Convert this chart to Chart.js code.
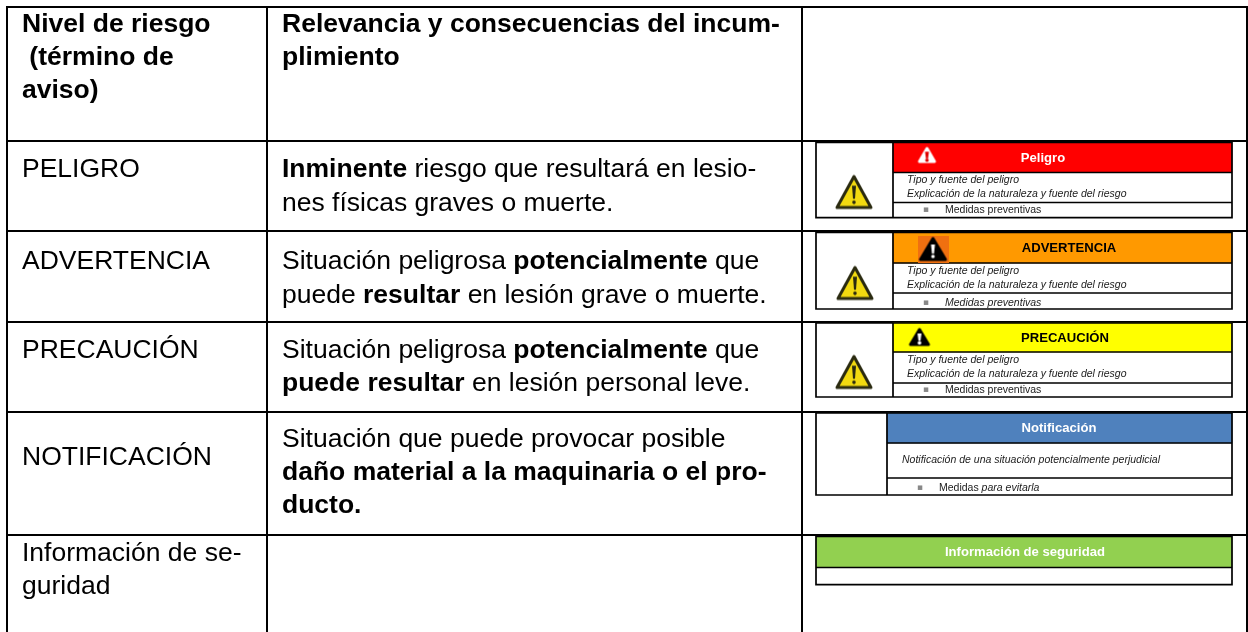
<!DOCTYPE html>
<html>
<head>
<meta charset="utf-8">
<script src="https://cdn.jsdelivr.net/npm/chart.js@4"></script>
<style>
  html, body { margin: 0; padding: 0; background: #fff; }
  #wrap { position: relative; width: 1248px; height: 632px; }
  canvas { filter: blur(0.3px); }
</style>
</head>
<body>
<div id="wrap"><canvas id="tabla"></canvas></div>
<script>
// table edges, in page units
const colEdges = [7, 267, 802, 1247];
const rowEdges = [7, 141, 231, 322, 412, 534.5];

// warning boxes: [left, split, right], [top, bannerBottom, noteBottom, bottom]
const boxX = [[816, 893, 1232], [816, 893, 1232], [816, 893, 1232], [816, 887, 1232]];
const boxY = [[142.5, 172.5, 202.5, 217.7], [232.5, 263, 293, 309], [323, 352, 383, 397], [413, 443, 478, 495]];
const infoX = [816, 1232];
const infoY = [536.5, 567.5, 584.7];

const bannerNames  = ['Peligro', 'ADVERTENCIA', 'PRECAUCIÓN', 'Notificación', 'Información de seguridad'];
const bannerColors = ['#ff0000', '#ff9900', '#ffff00', '#4f81bd', '#92d050'];
const bannerInk    = ['#fff', '#000', '#000', '#fff', '#fff'];

const levels = ['PELIGRO', 'ADVERTENCIA', 'PRECAUCIÓN', 'NOTIFICACIÓN'];
const headLeft  = ['Nivel de riesgo', ' (término de', 'aviso)'];
const headMid   = ['Relevancia y consecuencias del incum-', 'plimiento'];
const infoLeft  = ['Información de se-', 'guridad'];

// each line is a list of runs, second value true = bold
const relevance = [
  [[['Inminente', true], [' riesgo que resultará en lesio-', false]], [['nes físicas graves o muerte.', false]]],
  [[['Situación peligrosa ', false], ['potencialmente', true], [' que', false]], [['puede ', false], ['resultar', true], [' en lesión grave o muerte.', false]]],
  [[['Situación peligrosa ', false], ['potencialmente', true], [' que', false]], [['puede resultar', true], [' en lesión personal leve.', false]]],
  [[['Situación que puede provocar posible', false]], [['daño material a la maquinaria o el pro-', true]], [['ducto.', true]]],
];
const noteLines = ['Tipo y fuente del peligro', 'Explicación de la naturaleza y fuente del riesgo'];
const noticeLine = 'Notificación de una situación potencialmente perjudicial';
const measures = [
  [['Medidas preventivas', false]],
  [['Medidas preventivas', true]],
  [['Medidas preventivas', false]],
  [['Medidas ', false], ['para evitarla', true]],
];

const FONT = '"Liberation Sans", Arial, sans-serif';

// icon bitmaps used as point styles
function triangleIcon(w, h, fill, line, mark, back) {
  const c = document.createElement('canvas');
  c.width = w; c.height = h;
  const g = c.getContext('2d');
  if (back) { g.fillStyle = back; g.fillRect(0, 0, w, h); }
  g.lineJoin = 'round';
  g.filter = 'blur(0.5px)';
  g.beginPath();
  g.moveTo(w / 2, 3);
  g.lineTo(w - 3, h - 3);
  g.lineTo(3, h - 3);
  g.closePath();
  g.fillStyle = fill;
  g.fill();
  g.lineWidth = 3;
  g.strokeStyle = line;
  g.stroke();
  g.fillStyle = mark;
  g.beginPath();
  g.moveTo(w / 2 - 2, h * 0.33);
  g.lineTo(w / 2 + 2, h * 0.33);
  g.lineTo(w / 2 + 1, h * 0.68);
  g.lineTo(w / 2 - 1, h * 0.68);
  g.closePath();
  g.fill();
  g.beginPath();
  g.arc(w / 2, h * 0.78, 1.8, 0, 7);
  g.fill();
  return c;
}

const bigIcon    = triangleIcon(40, 37, '#f2da10', '#2a2a10', '#2a2a10');
const whiteIcon  = triangleIcon(21, 19, '#fff', '#fff', '#e00000');
const orangeIcon = triangleIcon(31, 27, '#000', '#000', '#fff', '#f07010');
const blackIcon  = triangleIcon(24, 21, '#000', '#000', '#fff');

// lines of the boxes, with gaps between segments
function boxLines() {
  const pts = [];
  const seg = (x0, y0, x1, y1) => pts.push({x: x0, y: y0}, {x: x1, y: y1}, {x: NaN, y: NaN});
  boxX.forEach((xs, i) => {
    const ys = boxY[i];
    seg(xs[0], ys[0], xs[2], ys[0]);
    seg(xs[0], ys[3], xs[2], ys[3]);
    seg(xs[0], ys[0], xs[0], ys[3]);
    seg(xs[2], ys[0], xs[2], ys[3]);
    seg(xs[1], ys[0], xs[1], ys[3]);
    seg(xs[1], ys[1], xs[2], ys[1]);
    seg(xs[1], ys[2], xs[2], ys[2]);
  });
  seg(infoX[0], infoY[0], infoX[1], infoY[0]);
  seg(infoX[0], infoY[1], infoX[1], infoY[1]);
  seg(infoX[0], infoY[2], infoX[1], infoY[2]);
  seg(infoX[0], infoY[0], infoX[0], infoY[2]);
  seg(infoX[1], infoY[0], infoX[1], infoY[2]);
  return pts;
}

function bannerSet(i) {
  const xs = i < 4 ? [boxX[i][1], boxX[i][2]] : infoX;
  const ys = i < 4 ? [boxY[i][0], boxY[i][1]] : [infoY[0], infoY[1]];
  return {
    type: 'bar',
    label: bannerNames[i],
    data: [{x: (xs[0] + xs[1]) / 2, y: ys}],
    backgroundColor: bannerColors[i],
    barThickness: xs[1] - xs[0],
    grouped: false,
    borderSkipped: false,
    order: 3,
  };
}

function iconSet(label, pts, style) {
  return {
    type: 'scatter',
    label,
    data: pts,
    pointStyle: style,
    showLine: false,
    order: 1,
  };
}

// text pass: everything goes through the chart scales
const tableText = {
  id: 'tableText',
  afterDatasetsDraw(chart) {
    const {ctx, scales: {x, y}} = chart;
    const put = (str, px, py, font, color, align) => {
      ctx.font = font;
      ctx.fillStyle = color || '#000';
      ctx.textAlign = align || 'left';
      ctx.textBaseline = 'alphabetic';
      ctx.fillText(str, x.getPixelForValue(px), y.getPixelForValue(py));
    };
    const runs = (line, px, py, size, style) => {
      let cur = x.getPixelForValue(px);
      line.forEach(([s, on]) => {
        ctx.font = (on ? style + ' ' : '') + size + 'px ' + FONT;
        ctx.fillStyle = size < 20 ? '#1a1a1a' : '#000';
        ctx.textAlign = 'left';
        ctx.fillText(s, cur, y.getPixelForValue(py));
        cur += ctx.measureText(s).width;
      });
    };
    ctx.save();
    const big = '26.5px ' + FONT, bigB = 'bold 26.5px ' + FONT;
    const headY = [32, 65, 98];
    headLeft.forEach((s, i) => put(s, 22, headY[i], bigB));
    headMid.forEach((s, i) => put(s, 282, headY[i], bigB));

    const levelY = [177, 269, 358, 465];
    levels.forEach((s, i) => put(s, 22, levelY[i], big));
    const relY = [[177, 211], [269, 303], [358, 391], [447, 480, 513]];
    relevance.forEach((lines, i) => lines.forEach((ln, j) => runs(ln, 282, relY[i][j], 26.5, 'bold')));
    infoLeft.forEach((s, i) => put(s, 22, 561 + i * 32.5, big));

    // box contents
    const small = 'italic 10.5px ' + FONT;
    const titleMid = [1043, 1069, 1065, 1059];
    const titleY = [162, 252, 342, 432];
    const noteY = [[183, 197], [274, 288], [363, 377]];
    const measureX = [945, 945, 945, 939];
    const measureY = [213, 306, 393, 491];
    const bulletX = [923, 923, 923, 917];
    boxX.forEach((xs, i) => {
      put(bannerNames[i], titleMid[i], titleY[i], 'bold 13.1px ' + FONT, bannerInk[i], 'center');
      if (i < 3) {
        put(noteLines[0], 907, noteY[i][0], small, '#1a1a1a');
        put(noteLines[1], 907, noteY[i][1], small, '#1a1a1a');
      } else {
        put(noticeLine, 902, 463, small, '#1a1a1a');
      }
      runs(measures[i], measureX[i], measureY[i], 10.5, 'italic');
      put('▪', bulletX[i], measureY[i] - 1, '9px "DejaVu Sans"', '#888');
    });
    put(bannerNames[4], 1025, 556, 'bold 13.1px ' + FONT, bannerInk[4], 'center');
    ctx.restore();
  },
};

new Chart(document.getElementById('tabla'), {
  type: 'bar',
  data: {
    datasets: [
      {
        type: 'line',
        label: 'cajas',
        data: boxLines(),
        borderColor: '#000',
        borderWidth: 1.7,
        borderCapStyle: 'square',
        pointRadius: 0,
        tension: 0,
        spanGaps: false,
        order: 2,
      },
      ...bannerNames.map((_, i) => bannerSet(i)),
      iconSet('aviso', [{x: 854, y: 192}, {x: 855, y: 283}, {x: 854, y: 372}], bigIcon),
      iconSet('peligro', [{x: 927, y: 155}], whiteIcon),
      iconSet('advertencia', [{x: 933, y: 249}], orangeIcon),
      iconSet('precaucion', [{x: 919.5, y: 337}], blackIcon),
    ],
  },
  plugins: [tableText],
  options: {
    responsive: true,
    maintainAspectRatio: false,
    animation: false,
    layout: { padding: { left: 6, top: 6 }, autoPadding: false },
    plugins: { legend: { display: false }, tooltip: { enabled: false } },
    elements: { point: { radius: 10 } },
    scales: {
      x: {
        type: 'linear', min: 6, max: 1248, offset: false,
        afterBuildTicks: ax => { ax.ticks = colEdges.map(v => ({value: v})); },
        ticks: { display: false },
        border: { display: false },
        grid: { color: '#000', lineWidth: 2, drawTicks: false, offset: false },
      },
      y: {
        type: 'linear', min: 6, max: 632, reverse: true,
        afterBuildTicks: ax => { ax.ticks = rowEdges.map(v => ({value: v})); },
        ticks: { display: false },
        border: { display: false },
        grid: { color: '#000', lineWidth: 2, drawTicks: false },
      },
    },
  },
});
</script>
</body>
</html>
